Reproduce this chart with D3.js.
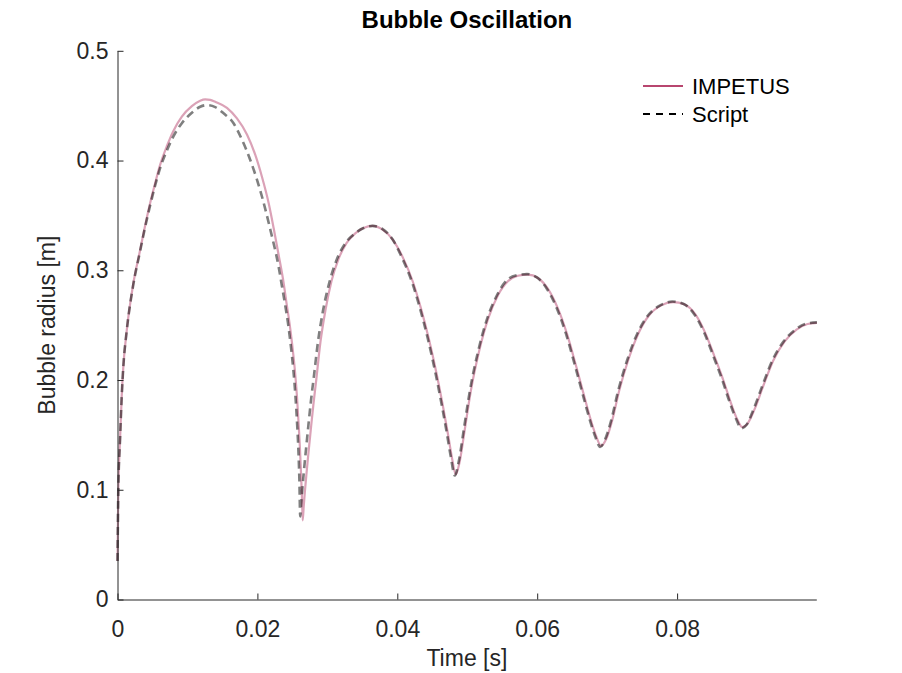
<!DOCTYPE html>
<html><head><meta charset="utf-8">
<script src="https://cdn.jsdelivr.net/npm/d3@7"></script>
<style>
body{margin:0;background:#fff;}
text{font-family:"Liberation Sans",Arial,Helvetica,sans-serif;fill:#262626;}
</style></head>
<body>
<svg id="chart" width="902" height="673"></svg>
<script>
// ---- data ----
const impetusTime = [0,0.000115,0.000358,0.000602,0.000831,0.00132,0.00226,0.00322,0.0037,0.00466,0.00537,0.00609,0.00705,0.00799,0.0092,0.01063,0.01182,0.01254,0.01325,0.01397,0.015645,0.017077,0.01851,0.019699,0.020659,0.021605,0.022321,0.023037,0.023753,0.02414,0.02457,0.0250,0.025358,0.025645,0.025903,0.026074,0.026218,0.026361,0.026476,0.026619,0.026791,0.027006,0.027292,0.02765,0.028008,0.028438,0.029011,0.029728,0.030587,0.03159,0.032736,0.034026,0.035172,0.036461,0.0379,0.03934,0.04077,0.0422,0.04335,0.04449,0.04564,0.0465,0.04721,0.04779,0.04836,0.04893,0.04965,0.05051,0.05165,0.05294,0.05437,0.05581,0.05724,0.05867,0.0601,0.06154,0.06297,0.06426,0.06555,0.06669,0.06769,0.06841,0.06913,0.06985,0.07071,0.07171,0.073,0.07443,0.076,0.07772,0.07944,0.08101,0.08259,0.08402,0.08531,0.0866,0.08775,0.08861,0.08932,0.09004,0.09105,0.09234,0.09377,0.09535,0.09707,0.09865,0.09999];
const impetusRadius = [0.035,0.0995,0.145,0.185,0.212,0.245,0.288,0.318,0.333,0.361,0.379,0.396,0.413,0.427,0.440,0.4495,0.4545,0.4557,0.4553,0.4535,0.448,0.4384,0.4238,0.4051,0.385,0.3613,0.3385,0.3139,0.2883,0.271,0.2527,0.2308,0.2089,0.1861,0.1588,0.1387,0.1177,0.0949,0.0721,0.0849,0.0985,0.1141,0.1332,0.156,0.1779,0.2016,0.2345,0.2637,0.2901,0.3102,0.3248,0.3339,0.3385,0.3404,0.337,0.328,0.312,0.29,0.266,0.238,0.205,0.177,0.152,0.130,0.114,0.126,0.155,0.19,0.225,0.255,0.277,0.29,0.295,0.296,0.293,0.283,0.265,0.242,0.213,0.186,0.163,0.149,0.140,0.146,0.163,0.19,0.218,0.242,0.259,0.268,0.271,0.269,0.26,0.243,0.222,0.2,0.178,0.164,0.157,0.160,0.173,0.195,0.218,0.235,0.246,0.251,0.252];

const scriptTime = [0,0.000115,0.000358,0.000602,0.000831,0.00132,0.00226,0.00322,0.0037,0.00466,0.00537,0.00609,0.00705,0.00799,0.0092,0.01063,0.01182,0.01273,0.01397,0.01516,0.01659,0.01779,0.01898,0.02066,0.02185,0.02304,0.023525,0.023925,0.024355,0.024785,0.025143,0.02543,0.025688,0.02586,0.026003,0.026118,0.026261,0.026432,0.026647,0.026934,0.027292,0.02765,0.02808,0.028653,0.029369,0.030301,0.031375,0.032593,0.034026,0.035172,0.036461,0.0379,0.03934,0.04063,0.04206,0.04321,0.04435,0.0455,0.04636,0.04707,0.04765,0.04822,0.04879,0.04951,0.05037,0.05151,0.0528,0.05423,0.05567,0.0571,0.05853,0.05996,0.0614,0.06283,0.06412,0.06541,0.06655,0.06755,0.06827,0.06899,0.06971,0.07057,0.07157,0.07286,0.07429,0.07586,0.07758,0.0793,0.08087,0.08245,0.08388,0.08517,0.08646,0.08761,0.08847,0.08918,0.0899,0.09091,0.0922,0.09363,0.09521,0.09693,0.09851,0.09999];
const scriptRadius = [0.035,0.0995,0.145,0.185,0.212,0.245,0.287,0.317,0.332,0.359,0.377,0.393,0.409,0.422,0.434,0.4435,0.449,0.4505,0.4487,0.443,0.434,0.419,0.4005,0.367,0.337,0.303,0.285,0.270,0.2527,0.2308,0.2089,0.1861,0.1588,0.136,0.1086,0.0757,0.0876,0.1013,0.1168,0.136,0.1588,0.1807,0.2035,0.2345,0.2628,0.2892,0.3102,0.3248,0.3339,0.3385,0.3405,0.3375,0.328,0.312,0.29,0.266,0.238,0.205,0.177,0.152,0.130,0.113,0.126,0.155,0.19,0.225,0.255,0.277,0.291,0.2955,0.2965,0.2935,0.283,0.265,0.242,0.213,0.186,0.163,0.149,0.139,0.146,0.163,0.19,0.218,0.242,0.259,0.268,0.2715,0.2695,0.26,0.243,0.222,0.2,0.178,0.164,0.156,0.159,0.173,0.195,0.218,0.235,0.246,0.2515,0.2525];

const xTicks = [0,0.02,0.04,0.06,0.08];
const xTickLabels = ["0","0.02","0.04","0.06","0.08"];
const yTicks = [0,0.1,0.2,0.3,0.4,0.5];
const yTickLabels = ["0","0.1","0.2","0.3","0.4","0.5"];
const seriesNames = ["IMPETUS","Script"];

// ---- layout ----
const svg = d3.select("#chart");
const L = 117.5, R = 816.3, T = 50.8, B = 599.5;
const x = d3.scaleLinear().domain([0,0.0999]).range([L,R]);
const y = d3.scaleLinear().domain([0,0.5]).range([B,T]);

const pink = "#b8466f";
const axisCol = "#262626";

const line = d3.line().x(d=>x(d[0])).y(d=>y(d[1])).curve(d3.curveMonotoneX);
const impData = impetusTime.map((t,i)=>[t,impetusRadius[i]]);
const scrData = scriptTime.map((t,i)=>[t,scriptRadius[i]]);

svg.append("path").attr("d",line(impData)).attr("fill","none")
  .attr("stroke",pink).attr("stroke-opacity",0.5).attr("stroke-width",2.2);
svg.append("path").attr("d",line(scrData)).attr("fill","none")
  .attr("stroke","#000").attr("stroke-opacity",0.5).attr("stroke-width",2.6)
  .attr("stroke-dasharray","8,5");

// axes
const xAxis = d3.axisBottom(x).tickValues(xTicks).tickFormat((d,i)=>xTickLabels[i]).tickSizeInner(-6).tickSizeOuter(0).tickPadding(14);
const yAxis = d3.axisLeft(y).tickValues(yTicks).tickFormat((d,i)=>yTickLabels[i]).tickSizeInner(-6).tickSizeOuter(0).tickPadding(10);

const gx = svg.append("g").attr("transform",`translate(0,${B})`).call(xAxis);
const gy = svg.append("g").attr("transform",`translate(${L},0)`).call(yAxis);
[gx,gy].forEach(g=>{
  g.attr("font-size",null).attr("font-family",null);
  g.select(".domain").attr("stroke",axisCol).attr("stroke-width",1);
  g.selectAll(".tick line").attr("stroke",axisCol).attr("stroke-width",1);
  g.selectAll(".tick text").attr("fill",axisCol).style("font-size","23px")
   .style("font-family","'Liberation Sans',Arial,sans-serif");
});
gx.selectAll(".tick text").attr("dy","1.0em");
gy.selectAll(".tick text").attr("x",-9);

// labels
svg.append("text").attr("x",(L+R)/2).attr("y",666).attr("text-anchor","middle")
  .style("font-size","23px").text("Time [s]");
svg.append("text").attr("transform",`translate(55,${(T+B)/2}) rotate(-90)`).attr("text-anchor","middle")
  .style("font-size","23px").text("Bubble radius [m]");
svg.append("text").attr("x",(L+R)/2).attr("y",28).attr("text-anchor","middle")
  .style("font-size","24px").style("font-weight","bold").style("fill","#000").text("Bubble Oscillation");

// legend
const leg = svg.append("g");
const legY = [86,114];
leg.append("line").attr("x1",643).attr("x2",683).attr("y1",legY[0]).attr("y2",legY[0])
  .attr("stroke",pink).attr("stroke-width",2);
leg.append("line").attr("x1",643).attr("x2",683).attr("y1",legY[1]).attr("y2",legY[1])
  .attr("stroke","#000").attr("stroke-width",2).attr("stroke-dasharray","7,6");
seriesNames.forEach((n,i)=>{
  leg.append("text").attr("x",692).attr("y",legY[i]).attr("dy","0.35em")
    .style("font-size","22px").style("fill","#000").text(n);
});
</script>
</body></html>
